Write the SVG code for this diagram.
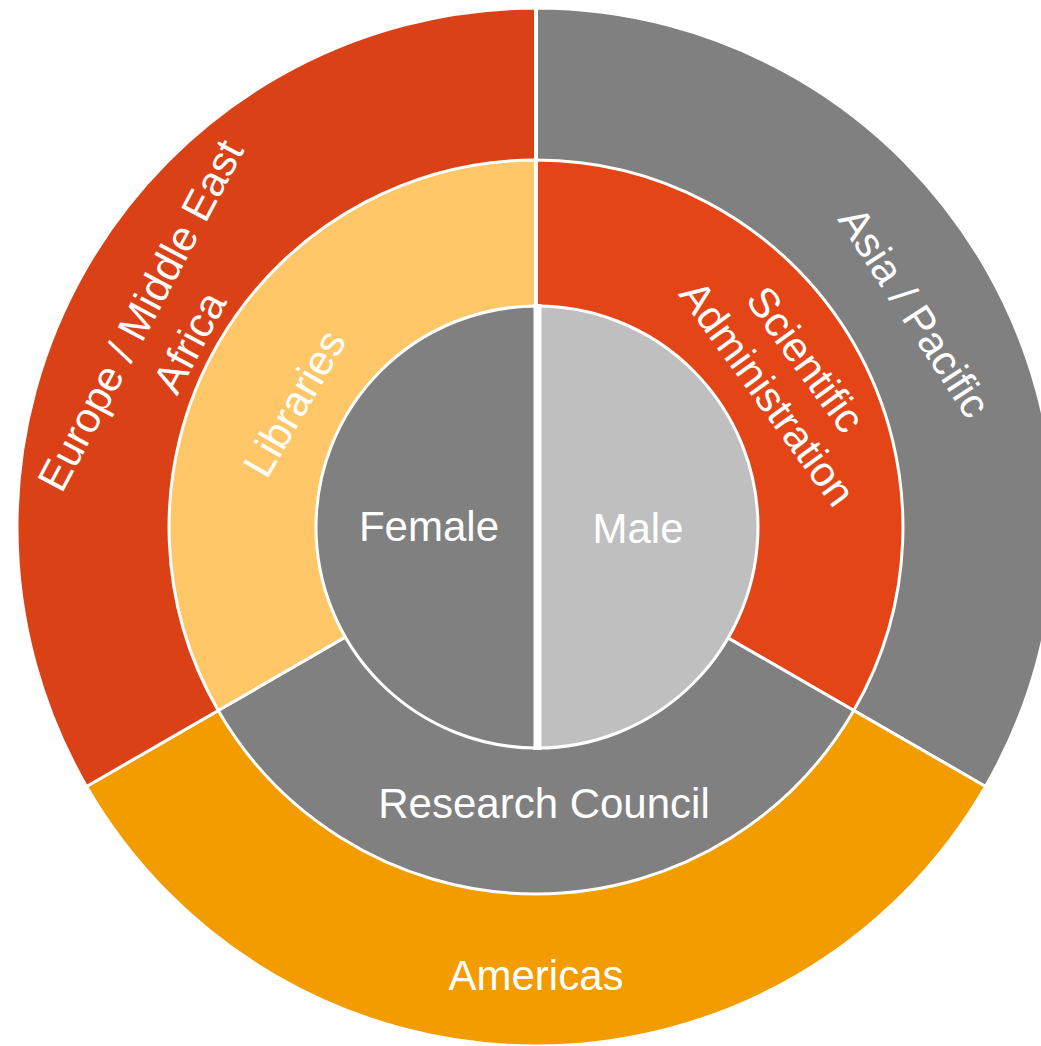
<svg xmlns="http://www.w3.org/2000/svg" width="1041" height="1046" viewBox="0 0 1041 1046">
<style>
.seg{stroke:#ffffff;stroke-width:3;stroke-linejoin:round}
.lbl{font-family:"Liberation Sans",Arial,sans-serif;font-size:42px;fill:#ffffff;text-anchor:middle}
</style>
<rect width="1041" height="1046" fill="#ffffff"/>
<g id="ring-outer">
<g id="asia-pacific"><path class="seg" fill="#808080" d="M536,527 L536,8 A519,519 0 0 1 985.5,786.5 Z"/></g>
<g id="americas"><path class="seg" fill="#F29C00" d="M536,527 L985.5,786.5 A519,519 0 0 1 86.5,786.5 Z"/></g>
<g id="europe"><path class="seg" fill="#DB4116" d="M536,527 L86.5,786.5 A519,519 0 0 1 536,8 Z"/></g>
</g>
<g id="ring-middle">
<g id="scientific-administration"><path class="seg" fill="#E34517" d="M536,527 L536,160 A367,367 0 0 1 853.8,710.5 Z"/></g>
<g id="research-council"><path class="seg" fill="#808080" d="M536,527 L853.8,710.5 A367,367 0 0 1 218.2,710.5 Z"/></g>
<g id="libraries"><path class="seg" fill="#FFC768" d="M536,527 L218.2,710.5 A367,367 0 0 1 536,160 Z"/></g>
</g>
<g id="ring-inner">
<g id="female"><path class="seg" fill="#808080" d="M537,306 A221,221 0 0 0 537,748 Z"/></g>
<g id="male"><path class="seg" fill="#BFBFBF" d="M537,306 A221,221 0 0 1 537,748 Z"/></g>
</g>
<g id="connectors">
<line x1="536" y1="6" x2="536" y2="306" stroke="#ffffff" stroke-width="4"/>
<line x1="537.5" y1="304" x2="537.5" y2="750" stroke="#ffffff" stroke-width="8"/>
</g>
<g id="labels">
<text class="lbl" transform="translate(140,315) rotate(-62)" y="15">Europe / Middle East</text>
<text class="lbl" transform="translate(189,342) rotate(-62)" y="15">Africa</text>
<text class="lbl" transform="translate(294,403) rotate(-60)" y="15">Libraries</text>
<text class="lbl" transform="translate(915,312) rotate(57)" y="15">Asia / Pacific</text>
<text class="lbl" transform="translate(806,359) rotate(54)" y="15">Scientific</text>
<text class="lbl" transform="translate(768,393) rotate(54)" y="15">Administration</text>
<text class="lbl" x="429" y="541">Female</text>
<text class="lbl" x="638" y="543">Male</text>
<text class="lbl" x="544" y="818">Research Council</text>
<text class="lbl" x="536" y="990">Americas</text>
</g>
</svg>
